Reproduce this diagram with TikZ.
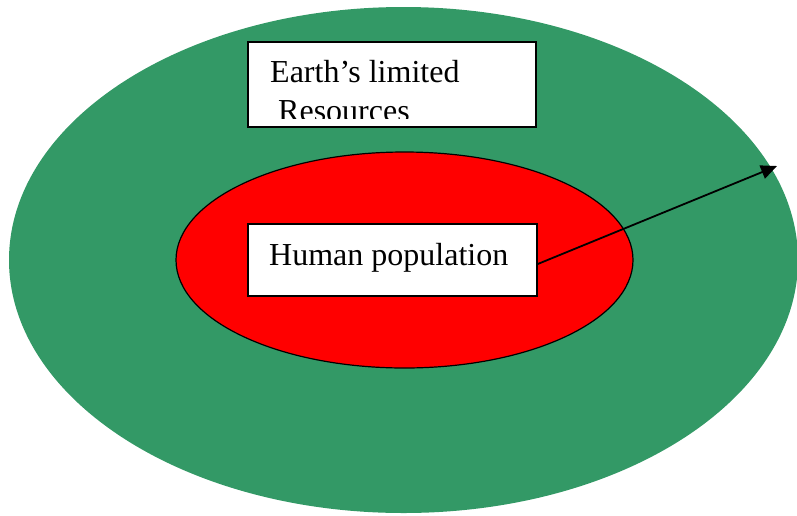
\documentclass[tikz,border=0pt]{standalone}
\usepackage{fontspec}
\setmainfont{Liberation Serif}
\usetikzlibrary{arrows.meta}
\definecolor{seagreen}{HTML}{339966}
\tikzset{
  box/.style={draw=black, line width=1.5pt, fill=white, inner sep=0pt},
  txt/.style={inner sep=0pt, font=\fontsize{32}{38}\selectfont, text=black},
  arrowline/.style={draw=black, line width=1.8pt, -{Triangle[length=16pt,width=14pt]}}
}
\begin{document}
\begin{tikzpicture}[x=1pt,y=-1pt]
\useasboundingbox (0,0) rectangle (797,515);
\fill[seagreen] (403.5,260) ellipse [x radius=394.5, y radius=253];
\node[box, minimum width=288pt, minimum height=85pt] (earth) at (392,84.5) {};
\begin{scope}
\clip (249,43) rectangle (535,118.5);
\node[txt, anchor=base west] (t1) at (270,82.7) {Earth’s limited};
\node[txt, anchor=base west] (t2) at (278,121) {Resources};
\end{scope}
\draw[fill=red, line width=1.2pt] (404.5,260) ellipse [x radius=228.5, y radius=108];
\node[box, minimum width=289pt, minimum height=72pt] (hp) at (392.5,260) {};
\node[txt, anchor=base west] (t3) at (269,265) {Human population};
\coordinate (tip) at (777,166);
\draw[arrowline] ([yshift=-4pt]hp.east) -- (tip);
\end{tikzpicture}
\end{document}
